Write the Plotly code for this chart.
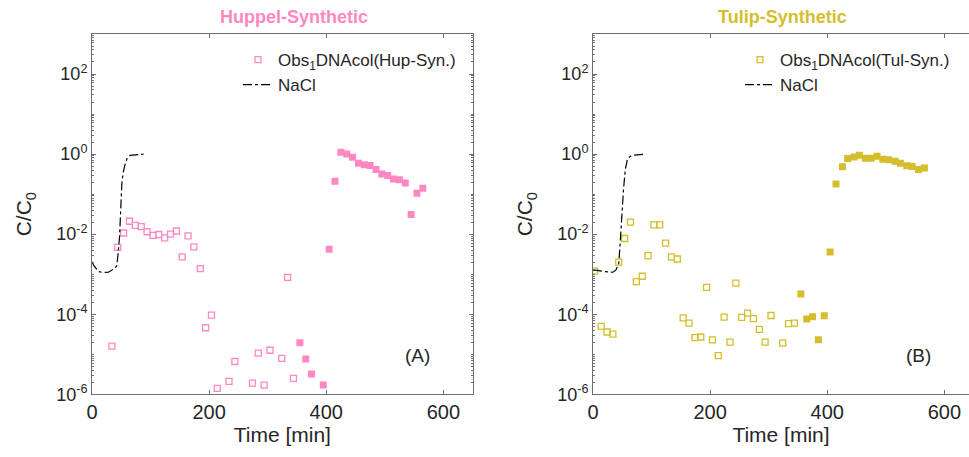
import plotly.graph_objects as go

# ---- data -------------------------------------------------------------
# NaCl tracer breakthrough (relative concentration vs time in minutes)
nacl_hup_t = [0, 3, 11, 19, 28, 36, 42, 44, 47, 49, 51, 53, 56, 60, 65, 88]
nacl_hup_c = [2.04e-3, 1.66e-3, 1.17e-3, 1.10e-3, 1.12e-3, 1.32e-3, 1.58e-3, 2.69e-3,
              8.5e-3, 0.048, 0.186, 0.33, 0.52, 0.78, 0.93, 1.0]
nacl_tul_t = [0, 4, 18, 34, 39, 44, 46, 49, 52, 55, 59, 66, 89]
nacl_tul_c = [1.26e-3, 1.26e-3, 1.17e-3, 1.12e-3, 1.26e-3, 1.86e-3, 4.8e-3, 0.027,
              0.126, 0.40, 0.78, 0.93, 1.0]

# Huppel-Synthetic DNA observations (open: first phase, filled: later phase)
hup_open_t = [34, 44, 54, 64, 74, 84, 94, 104, 114, 124, 134, 144, 154, 164, 174, 185,
              194, 204, 214, 234, 244, 274, 284, 294, 304, 324, 334, 344]
hup_open_c = [1.6e-5, 4.7e-3, 1.07e-2, 2.1e-2, 1.66e-2, 1.55e-2, 1.15e-2, 9.3e-3, 9.8e-3,
              8.1e-3, 1.0e-2, 1.2e-2, 2.7e-3, 9.1e-3, 4.8e-3, 1.38e-3,
              4.6e-5, 9.5e-5, 1.4e-6, 2.1e-6, 6.6e-6, 1.9e-6, 1.07e-5, 1.7e-6, 1.26e-5,
              7.9e-6, 8.3e-4, 2.5e-6]
hup_fill_t = [355, 365, 375, 395, 405, 415, 425, 435, 445, 455, 465, 475, 485, 495, 505,
              515, 525, 535, 545, 555, 565]
hup_fill_c = [1.95e-5, 7.6e-6, 3.2e-6, 1.7e-6, 4.2e-3, 0.21, 1.12, 1.0, 0.83, 0.59, 0.54,
              0.52, 0.41, 0.32, 0.29, 0.24, 0.23, 0.19, 0.031, 0.105, 0.14]

# Tulip-Synthetic DNA observations
tul_open_t = [3, 14, 24, 34, 44, 54, 64, 74, 84, 94, 104, 114, 124, 134, 144, 154, 164,
              174, 184, 194, 204, 214, 224, 234, 244, 254, 264, 274, 284, 294, 304, 324,
              334, 344]
tul_open_c = [1.2e-3, 5.0e-5, 3.6e-5, 3.2e-5, 2.0e-3, 7.8e-3, 2.0e-2, 6.5e-4, 8.9e-4,
              2.9e-3, 1.7e-2, 1.7e-2, 6.0e-3, 2.7e-3, 2.4e-3, 8.1e-5, 6.0e-5, 2.6e-5,
              2.7e-5, 4.7e-4, 2.3e-5, 9.3e-6, 8.5e-5, 2.0e-5, 6.0e-4, 8.3e-5, 1.07e-4,
              7.8e-5, 4.2e-5, 2.0e-5, 9.3e-5, 1.9e-5, 5.8e-5, 6.0e-5]
tul_fill_t = [355, 365, 375, 385, 395, 405, 415, 426, 435, 446, 455, 465, 475, 485, 495,
              505, 516, 525, 536, 545, 556, 566]
tul_fill_c = [3.2e-4, 7.6e-5, 8.7e-5, 2.3e-5, 9.1e-5, 3.6e-3, 0.18, 0.48, 0.78, 0.85,
              0.93, 0.79, 0.79, 0.89, 0.74, 0.72, 0.66, 0.59, 0.51, 0.49, 0.41, 0.45]

y_tickvals = [1e-6, 1e-4, 1e-2, 1e0, 1e2]
y_ticktext = ["10<sup>-6</sup>", "10<sup>-4</sup>", "10<sup>-2</sup>",
              "10<sup>0</sup>", "10<sup>2</sup>"]
x_tickvals = [0, 200, 400, 600]

# ---- styling ----------------------------------------------------------
PINK = "#FF88C2"
OLIVE = "#D4BE2C"
TXT = "#262626"
AX = "#6E6E6E"
FONT = "Liberation Sans"
W, H = 969, 457


def px_x(p):
    return p / W


def px_y(p):
    return 1 - p / H


fig = go.Figure()

panels = [
    dict(xa="x", ya="y", leg="legend", col=PINK, name="Hup-Syn.",
         nt=nacl_hup_t, nc=nacl_hup_c,
         ot=hup_open_t, oc=hup_open_c, ft=hup_fill_t, fc=hup_fill_c),
    dict(xa="x2", ya="y2", leg="legend2", col=OLIVE, name="Tul-Syn.",
         nt=nacl_tul_t, nc=nacl_tul_c,
         ot=tul_open_t, oc=tul_open_c, ft=tul_fill_t, fc=tul_fill_c),
]

for p in panels:
    fig.add_trace(go.Scatter(
        x=p["ot"], y=p["oc"], mode="markers", xaxis=p["xa"], yaxis=p["ya"],
        legend=p["leg"],
        name=f"Obs<sub>1</sub>DNAcol({p['name']})",
        marker=dict(symbol="square-open", size=6, color=p["col"],
                    line=dict(width=1.3, color=p["col"])),
    ))
    fig.add_trace(go.Scatter(
        x=p["nt"], y=p["nc"], mode="lines", xaxis=p["xa"], yaxis=p["ya"],
        legend=p["leg"], name="NaCl",
        line=dict(color="black", width=1.2, dash="dashdot"),
    ))
    fig.add_trace(go.Scatter(
        x=p["ft"], y=p["fc"], mode="markers", xaxis=p["xa"], yaxis=p["ya"],
        showlegend=False, name=f"DNAcol({p['name']})",
        marker=dict(symbol="square", size=7, color=p["col"], line=dict(width=0)),
    ))

y_dom = [px_y(394.3), px_y(34)]
xa_common = dict(
    range=[0, 650], tickvals=x_tickvals, ticks="inside", ticklen=4, tickcolor=AX,
    showline=True, linecolor=AX, linewidth=1, mirror="ticks", showgrid=False,
    zeroline=False, tickfont=dict(size=20, color=TXT, family=FONT),
    title=dict(text="Time [min]", font=dict(size=21, color=TXT, family=FONT), standoff=5),
    automargin=False,
)
ya_common = dict(
    type="log", range=[-6, 3], tickvals=y_tickvals, ticktext=y_ticktext,
    ticks="inside", ticklen=4, tickcolor=AX, showline=True, linecolor=AX,
    linewidth=1, showgrid=False, zeroline=False, domain=y_dom,
    tickfont=dict(size=18, color=TXT, family=FONT),
    minor=dict(ticks="inside", ticklen=2, tickcolor=AX, dtick="D1", showgrid=False),
    title=dict(text="C/C<sub>0</sub>", font=dict(size=21, color=TXT, family=FONT),
               standoff=18),
    automargin=False,
)


def label(text, x, y, size, color):
    return dict(text=text, x=px_x(x), y=px_y(y), xref="paper", yref="paper",
                xanchor="center", yanchor="middle", showarrow=False,
                font=dict(size=size, color=color, family=FONT))


fig.update_layout(
    width=W, height=H, margin=dict(l=0, r=0, t=0, b=0),
    paper_bgcolor="white", plot_bgcolor="white",
    font=dict(family=FONT, color=TXT),
    xaxis=dict(xa_common, domain=[px_x(92), px_x(472.6)], anchor="y"),
    yaxis=dict(ya_common, anchor="x", mirror="ticks"),
    xaxis2=dict(xa_common, domain=[px_x(593), 1.0], anchor="y2",
                range=[0, (W - 593) / (472.6 - 92) * 650]),
    yaxis2=dict(ya_common, anchor="x2", mirror=False),
    legend=dict(x=px_x(238), y=px_y(42), xanchor="left", yanchor="top",
                bgcolor="rgba(0,0,0,0)", font=dict(size=17, color=TXT, family=FONT),
                tracegroupgap=0, itemwidth=30),
    legend2=dict(x=px_x(740), y=px_y(42), xanchor="left", yanchor="top",
                 bgcolor="rgba(0,0,0,0)", font=dict(size=17, color=TXT, family=FONT),
                 tracegroupgap=0, itemwidth=30),
    showlegend=True,
    annotations=[
        label("<b>Huppel-Synthetic</b>", 294, 17, 18, PINK),
        label("<b>Tulip-Synthetic</b>", 782, 17, 18, OLIVE),
        label("(A)", 417, 355, 19, TXT),
        label("(B)", 918, 355, 19, TXT),
    ],
)

fig.write_html("out.html")
